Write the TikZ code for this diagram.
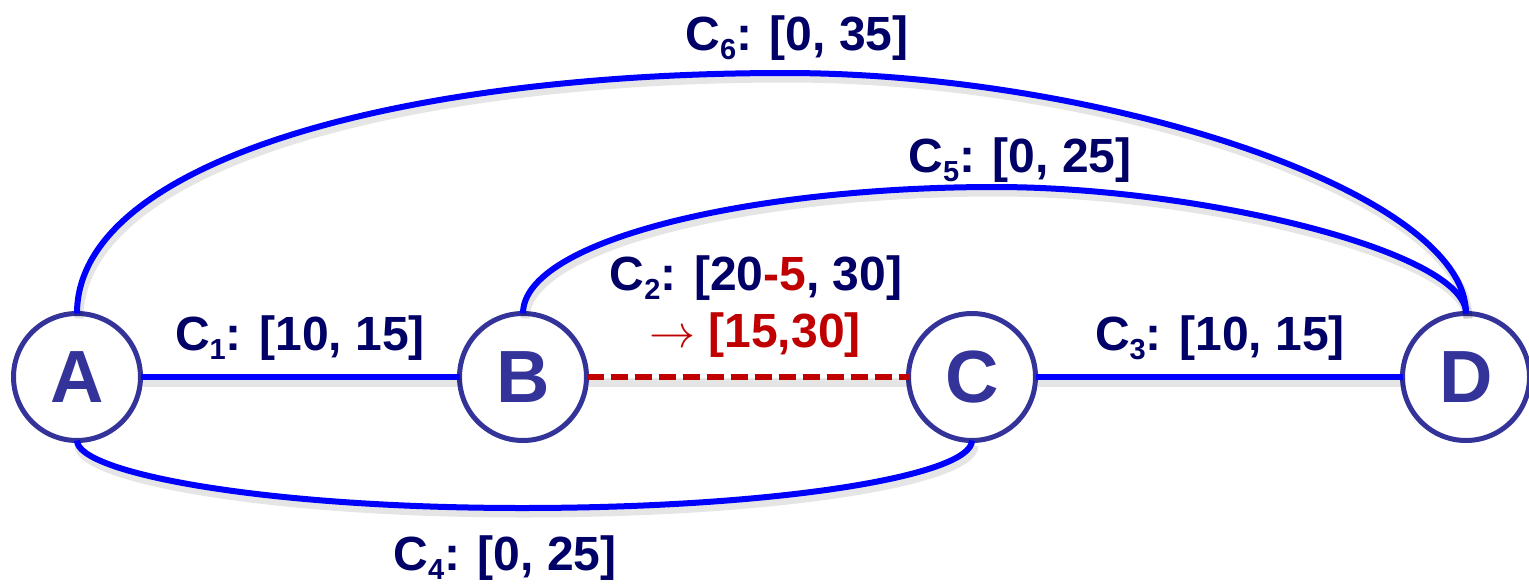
\documentclass[tikz,border=0pt]{standalone}
\usepackage{fontspec}
\setmainfont{Liberation Sans}
\definecolor{edgeblue}{HTML}{0000FF}
\definecolor{nodecol}{HTML}{333399}
\definecolor{labcol}{HTML}{000066}
\definecolor{redc}{HTML}{C00000}
\newcommand\lowidx[1]{\raisebox{-9pt}{\fontsize{29}{29}\selectfont #1}}
\newcommand\bigarrow{{\fontsize{10}{10}\selectfont\scalebox{4.6}{$\mathsurround=0pt\rightarrow$}}}
\begin{document}
\begin{tikzpicture}[x=1pt,y=-1pt,
  vertex/.style={circle, draw=nodecol, line width=5pt, minimum size=127pt, inner sep=0pt, outer sep=0pt,
    text=nodecol, font=\bfseries\fontsize{74}{74}\selectfont},
  shadowed/.style={preaction={draw=black, opacity=0.10, line width=9pt, transform canvas={shift={(2pt,-5pt)}}}},
  edge/.style={draw=edgeblue, line width=6pt, shadowed},
  redge/.style={draw=redc, line width=5.5pt, dash pattern=on 17pt off 7pt, shadowed},
  lab/.style={text=labcol, font=\bfseries\fontsize{48}{48}\selectfont, anchor=base, inner sep=0pt}]
\useasboundingbox (0,0) rectangle (1529,584);

\node[vertex] (A) at (77,377) {A};
\node[vertex] (B) at (523,377) {B};
\node[vertex] (C) at (972,377) {C};
\node[vertex] (D) at (1466,377) {D};

\coordinate (p6) at (785,73);
\coordinate (p5) at (995,187);
\coordinate (p4) at (522,508);

\path[edge] (A) -- (B);
\path[redge] (B) -- (C);
\path[edge] (C) -- (D);
\path[edge] (A.north) .. controls +(0,-152) and +(-385,0) .. (p6)
                      .. controls +(315,0) and +(0,-122) .. (D.north);
\path[edge] (B.north) .. controls +(0,-73) and +(-245,0) .. (p5)
                      .. controls +(205,0) and +(0,-62) .. (D.north);
\path[edge] (A.south) .. controls +(0,32) and +(-262,0) .. (p4)
                      .. controls +(258,0) and +(0,35) .. (C.south);

\node[lab] (l6) at (797,50) {C\lowidx{6}: [0, 35]};
\node[lab] (l5) at (1020,172) {C\lowidx{5}: [0, 25]};
\node[lab] (l2a) at (756,290) {C\lowidx{2}: [20\textcolor{redc}{-5}, 30]};
\node[lab, text=redc] (l2b) at (755,347) {\bigarrow\ [15,30]};
\node[lab] (l1) at (300,350) {C\lowidx{1}: [10, 15]};
\node[lab] (l3) at (1220,350) {C\lowidx{3}: [10, 15]};
\node[lab] (l4) at (505,570) {C\lowidx{4}: [0, 25]};
\end{tikzpicture}
\end{document}
